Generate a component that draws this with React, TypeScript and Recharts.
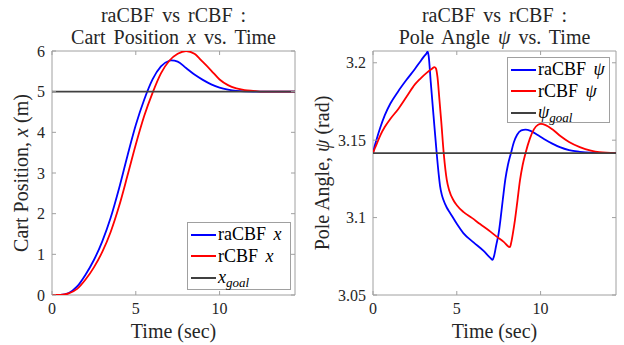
import { LineChart, Line, XAxis, YAxis, ReferenceArea } from 'recharts'

const FONT = 'Liberation Serif, Times New Roman, serif'
const AXIS_GRAY = '#a0a0a0'
const TEXT = '#262626'
const BLUE = '#0000ff'
const RED = '#ff0000'
const GOAL = '#404040'

// shared time axis (sec)
const T_END = 14.5
const timeTicks = [0, 5, 10]

// cart position x (m)
const posTicks = [0, 1, 2, 3, 4, 5, 6]
const xGoal = 5
const raPosTime = [0, 0.5, 1.0, 1.5, 2.0, 2.5, 3.0, 3.5, 4.0, 4.5, 5.0, 5.5, 6.0, 6.5, 7.0, 7.12, 7.5, 8.0, 8.5, 9.0, 9.5, 10.0, 10.5, 11.0, 12.0, 14.5]
const raPos = [0, 0.003, 0.05, 0.21, 0.5, 0.86, 1.32, 1.9, 2.62, 3.42, 4.18, 4.8, 5.3, 5.62, 5.76, 5.77, 5.74, 5.58, 5.42, 5.29, 5.18, 5.1, 5.05, 5.02, 5.0, 5.0]
const rPosTime = [0, 0.5, 1.0, 1.5, 2.0, 2.5, 3.0, 3.5, 4.0, 4.5, 5.0, 5.5, 6.0, 6.5, 7.0, 7.5, 8.0, 8.5, 9.0, 9.5, 10.0, 10.5, 11.0, 11.5, 12.0, 12.6, 14.5]
const rPos = [0, 0.002, 0.04, 0.15, 0.38, 0.68, 1.06, 1.55, 2.18, 2.93, 3.7, 4.4, 4.97, 5.45, 5.76, 5.93, 6.0, 5.93, 5.73, 5.52, 5.3, 5.16, 5.08, 5.04, 5.02, 5.0, 5.0]

// pole angle psi (rad)
const angleTicks = [3.05, 3.1, 3.15, 3.2]
const psiGoal = 3.1416
const raAngleTime = [
  0, 0.1, 0.2, 0.43, 0.7, 1.03, 1.5, 2.0, 2.5, 2.8, 3.0, 3.2, 3.26, 3.32, 3.45, 3.61, 3.8, 3.92, 4.0, 4.1,
  4.2, 4.4, 4.6, 5.0, 5.39, 6.0, 6.6, 7.0, 7.14, 7.22, 7.35, 7.5, 7.62, 7.75, 7.9, 8.05, 8.23, 8.4, 8.6, 8.85,
  9.1, 9.4, 9.8, 10.2, 10.7, 11.15, 11.7, 12.34, 13.0, 14.5,
]
const raAngle = [
  3.1416, 3.1462, 3.15, 3.158, 3.166, 3.1735, 3.1815, 3.189, 3.196, 3.2005, 3.2035, 3.2062, 3.2072, 3.2045, 3.187, 3.166, 3.1416, 3.128, 3.1205, 3.115,
  3.1115, 3.1065, 3.103, 3.096, 3.09, 3.084, 3.0785, 3.074, 3.0727, 3.075, 3.082, 3.09, 3.1, 3.112, 3.125, 3.134, 3.1416, 3.1485, 3.1535, 3.1563,
  3.1568, 3.156, 3.1535, 3.1508, 3.1478, 3.1455, 3.1436, 3.1425, 3.1419, 3.1416,
]
const rAngleTime = [
  0, 0.1, 0.2, 0.43, 0.7, 1.03, 1.5, 2.0, 2.5, 2.8, 3.2, 3.5, 3.67, 3.75, 3.85, 3.95, 4.07, 4.22, 4.32, 4.4,
  4.55, 4.8, 5.0, 5.39, 5.9, 6.39, 6.9, 7.38, 7.8, 8.17, 8.25, 8.35, 8.47, 8.62, 8.77, 8.93, 9.1, 9.36, 9.6, 9.85,
  10.02, 10.3, 10.7, 11.2, 11.7, 12.34, 13.0, 13.5, 14.5,
]
const rAngle = [
  3.1416, 3.1445, 3.147, 3.153, 3.1585, 3.1637, 3.17, 3.178, 3.186, 3.1895, 3.1935, 3.196, 3.1972, 3.1965, 3.1905, 3.178, 3.1625, 3.1416, 3.131, 3.1245,
  3.1175, 3.1112, 3.108, 3.1037, 3.0998, 3.0958, 3.0918, 3.0877, 3.0843, 3.0809, 3.084, 3.09, 3.0984, 3.111, 3.124, 3.134, 3.1416, 3.151, 3.157, 3.16,
  3.1605, 3.1597, 3.157, 3.1525, 3.1488, 3.1455, 3.1432, 3.1422, 3.1416,
]

const toPoints = (ts: number[], vs: number[]) => ts.map((t, i) => ({ t, v: vs[i] }))
const flatLine = (v: number) => [{ t: 0, v }, { t: T_END, v }]

const PLOT_W = 243
const PLOT_H = 244

// MATLAB-style ticks: marks point inward, mirrored on the opposite side of the box
const XTick = ({ x, y, payload }: any) => (
  <g>
    <line x1={x} y1={y} x2={x} y2={y - 4} stroke={AXIS_GRAY} />
    <line x1={x} y1={y - PLOT_H} x2={x} y2={y - PLOT_H + 4} stroke={AXIS_GRAY} />
    <text x={x} y={y + 19} textAnchor="middle" fill={TEXT} fontFamily={FONT} fontSize={16}>
      {payload.value}
    </text>
  </g>
)

const YTick = ({ x, y, payload }: any) => (
  <g>
    <line x1={x} y1={y} x2={x + 4} y2={y} stroke={AXIS_GRAY} />
    <line x1={x + PLOT_W - 4} y1={y} x2={x + PLOT_W} y2={y} stroke={AXIS_GRAY} />
    <text x={x - 7} y={y + 5.5} textAnchor="end" fill={TEXT} fontFamily={FONT} fontSize={16}>
      {payload.value}
    </text>
  </g>
)

interface LegendRow {
  color: string
  label: any
}

const sub = (s: string) => (
  <span style={{ fontSize: 13, fontStyle: 'italic', position: 'relative', top: 4 }}>{s}</span>
)

const posRows: LegendRow[] = [
  { color: BLUE, label: <>raCBF <i>x</i></> },
  { color: RED, label: <>rCBF <i>x</i></> },
  { color: GOAL, label: <><i>x</i>{sub('goal')}</> },
]

const angleRows: LegendRow[] = [
  { color: BLUE, label: <>raCBF <i>ψ</i></> },
  { color: RED, label: <>rCBF <i>ψ</i></> },
  { color: GOAL, label: <><i>ψ</i>{sub('goal')}</> },
]

const LegendBox = ({ rows, left, top, width, height }: { rows: LegendRow[]; left: number; top: number; width: number; height: number }) => (
  <div
    style={{
      position: 'absolute',
      left,
      top,
      width,
      height,
      boxSizing: 'border-box',
      border: `1px solid ${AXIS_GRAY}`,
      background: '#fff',
      fontFamily: FONT,
      fontSize: 18,
      wordSpacing: 3,
      color: '#000',
      paddingTop: 1,
    }}
  >
    {rows.map((r, i) => (
      <div key={i} style={{ display: 'flex', alignItems: 'center', height: 21.5, whiteSpace: 'nowrap' }}>
        <span
          style={{
            display: 'inline-block',
            width: 25,
            height: 0,
            borderTop: `2px solid ${r.color}`,
            marginLeft: 3,
            marginRight: 2,
          }}
        />
        <span>{r.label}</span>
      </div>
    ))}
  </div>
)

const textBase = {
  position: 'absolute' as const,
  fontFamily: FONT,
  fontSize: 20,
  lineHeight: '22px',
  color: TEXT,
  textAlign: 'center' as const,
  whiteSpace: 'nowrap' as const,
}

const Title = ({ left, children }: any) => (
  <div style={{ ...textBase, left, top: 4, width: PLOT_W, wordSpacing: 3 }}>{children}</div>
)

const XLabel = ({ cx }: { cx: number }) => (
  <div style={{ ...textBase, left: cx - 100, top: 320, width: 200, height: 22 }}>Time (sec)</div>
)

const YLabel = ({ cx, children }: any) => (
  <div
    style={{
      ...textBase,
      left: cx - 120,
      top: 173 - 11,
      width: 240,
      height: 22,
      transform: 'rotate(-90deg)',
    }}
  >
    {children}
  </div>
)

const CartChart = () => (
  <LineChart width={312} height={345} margin={{ top: 51, right: 17, bottom: 0, left: 0 }}>
    <XAxis
      dataKey="t"
      type="number"
      domain={[0, T_END]}
      ticks={timeTicks}
      allowDataOverflow
      axisLine={false}
      tickLine={false}
      tickSize={0}
      tickMargin={0}
      height={50}
      tick={(p: any) => <XTick {...p} />}
    />
    <YAxis
      type="number"
      domain={[0, 6]}
      ticks={posTicks}
      allowDataOverflow
      axisLine={false}
      tickLine={false}
      tickSize={0}
      tickMargin={0}
      width={52}
      tick={(p: any) => <YTick {...p} />}
    />
    <ReferenceArea x1={0} x2={T_END} y1={0} y2={6} fill="none" stroke={AXIS_GRAY} ifOverflow="visible" />
    <Line data={toPoints(raPosTime, raPos)} dataKey="v" name="raCBF x" type="monotone" stroke={BLUE} strokeWidth={1.8} dot={false} isAnimationActive={false} />
    <Line data={toPoints(rPosTime, rPos)} dataKey="v" name="rCBF x" type="monotone" stroke={RED} strokeWidth={1.8} dot={false} isAnimationActive={false} />
    <Line data={flatLine(xGoal)} dataKey="v" name="x_goal" type="linear" stroke={GOAL} strokeWidth={1.8} dot={false} isAnimationActive={false} />
  </LineChart>
)

const AngleChart = () => (
  <LineChart width={312} height={345} margin={{ top: 51, right: 8, bottom: 0, left: 0 }}>
    <XAxis
      dataKey="t"
      type="number"
      domain={[0, T_END]}
      ticks={timeTicks}
      allowDataOverflow
      axisLine={false}
      tickLine={false}
      tickSize={0}
      tickMargin={0}
      height={50}
      tick={(p: any) => <XTick {...p} />}
    />
    <YAxis
      type="number"
      domain={[3.05, 3.2076]}
      ticks={angleTicks}
      allowDataOverflow
      axisLine={false}
      tickLine={false}
      tickSize={0}
      tickMargin={0}
      width={61}
      tick={(p: any) => <YTick {...p} />}
    />
    <ReferenceArea x1={0} x2={T_END} y1={3.05} y2={3.2076} fill="none" stroke={AXIS_GRAY} ifOverflow="visible" />
    <Line data={toPoints(raAngleTime, raAngle)} dataKey="v" name="raCBF psi" type="monotone" stroke={BLUE} strokeWidth={1.8} dot={false} isAnimationActive={false} />
    <Line data={toPoints(rAngleTime, rAngle)} dataKey="v" name="rCBF psi" type="monotone" stroke={RED} strokeWidth={1.8} dot={false} isAnimationActive={false} />
    <Line data={flatLine(psiGoal)} dataKey="v" name="psi_goal" type="linear" stroke={GOAL} strokeWidth={1.8} dot={false} isAnimationActive={false} />
  </LineChart>
)

export default function App() {
  return (
    <div style={{ position: 'absolute', left: 0, top: 0, width: 624, height: 345, background: '#fff' }}>
      <div style={{ position: 'absolute', left: 0, top: 0 }}>
        <CartChart />
      </div>
      <div style={{ position: 'absolute', left: 312, top: 0 }}>
        <AngleChart />
      </div>

      <Title left={52}>
        raCBF vs rCBF :<br />
        Cart Position <i>x</i> vs. Time
      </Title>
      <Title left={373}>
        raCBF vs rCBF :<br />
        Pole Angle <i>ψ</i> vs. Time
      </Title>

      <XLabel cx={173.5} />
      <XLabel cx={494.5} />
      <YLabel cx={21}>
        Cart Position, <i>x</i> (m)
      </YLabel>
      <YLabel cx={322}>
        Pole Angle, <i>ψ</i> (rad)
      </YLabel>

      <LegendBox rows={posRows} left={187} top={222} width={104} height={68} />
      <LegendBox rows={angleRows} left={507} top={57} width={103} height={66} />
    </div>
  )
}
